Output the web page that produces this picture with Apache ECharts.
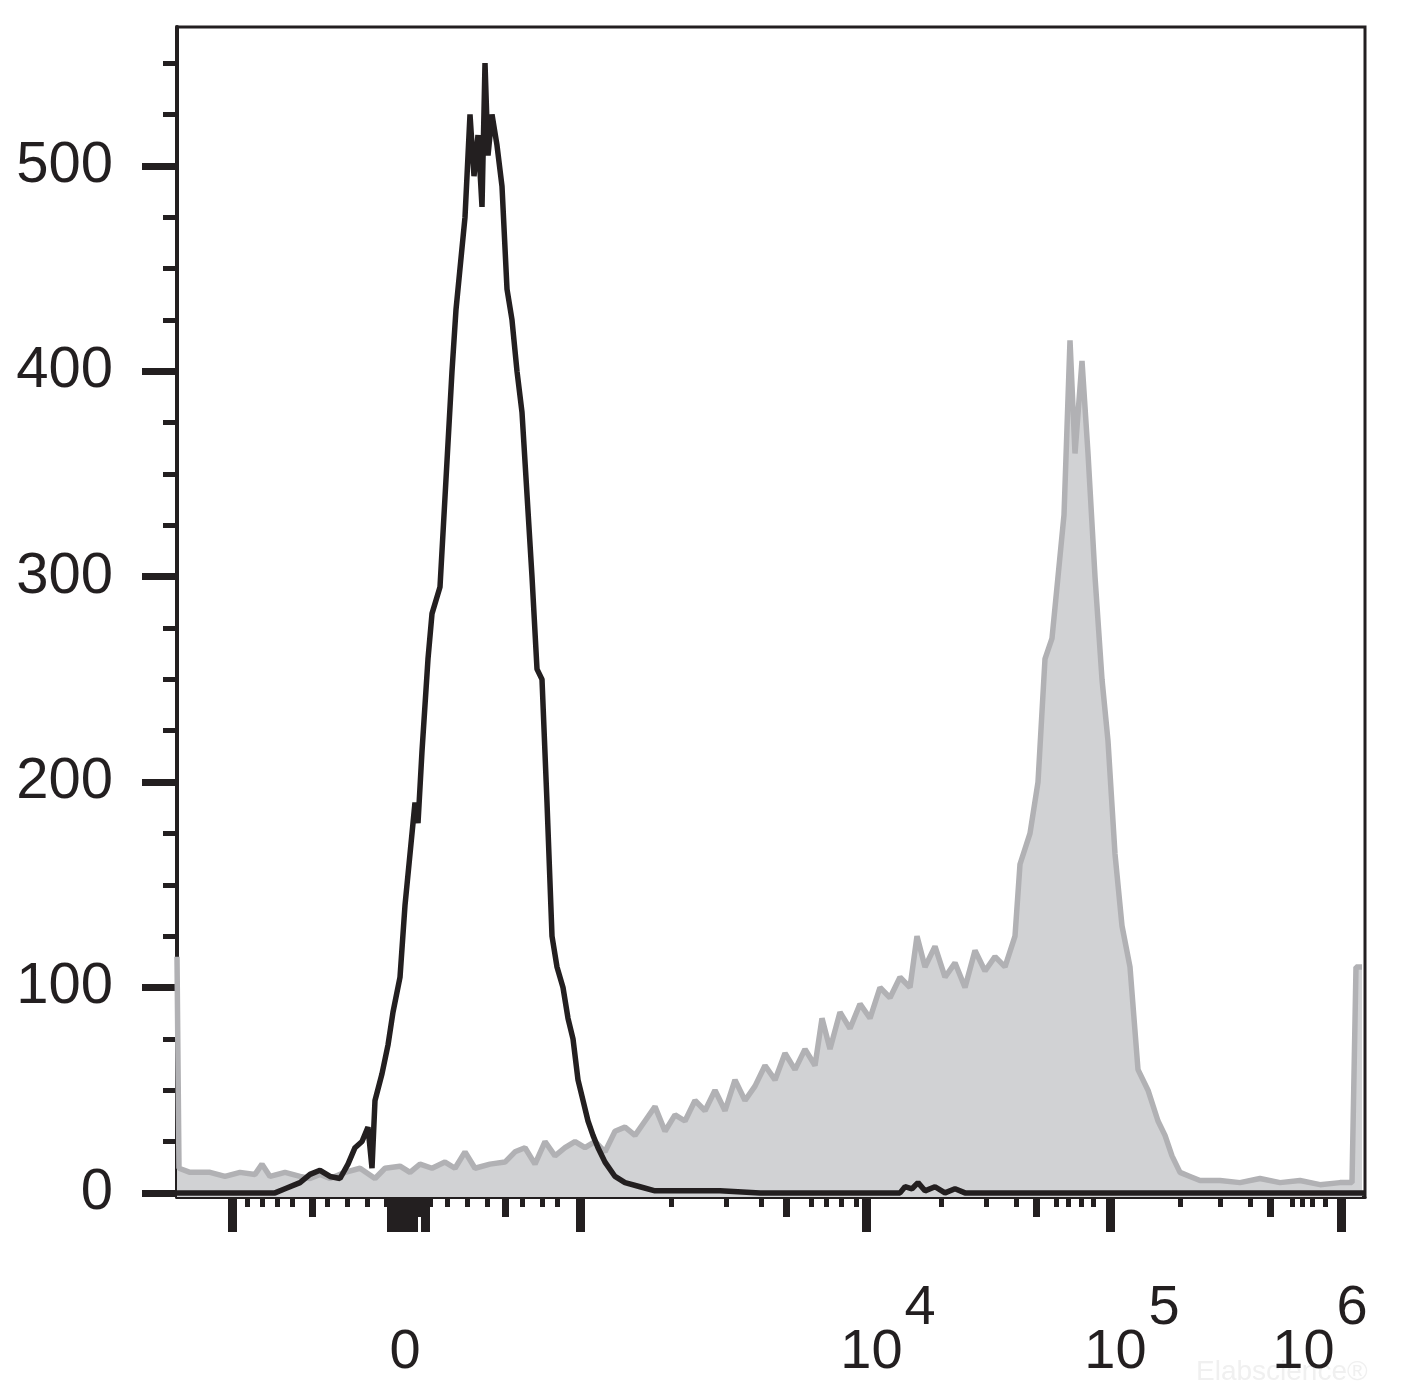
<!DOCTYPE html>
<html><head><meta charset="utf-8">
<script src="https://cdn.jsdelivr.net/npm/echarts@6/dist/echarts.min.js"></script>
<style>html,body{margin:0;padding:0;background:#fff}#c{width:1418px;height:1393px}</style>
</head><body><div id="c"></div>
<script>
// x values are display channels of the biexponential scale (177..1365)
const blackX = [177,275,285,300,310,320,330,340,348,355,362,368,372,375,382,388,393,400,405,410,415,418,422,428,432,440,444,448,452,456,460,465,470,474,478,482,485,488,492,497,502,507,512,517,522,527,532,537,542,547,552,557,563,568,573,578,583,588,593,598,605,615,625,640,655,680,700,720,760,900,905,912,918,925,935,945,955,965,1365];
const blackY = [0,0,2,5,9,11,8,7,14,22,25,32,12,45,58,72,88,105,140,165,190,180,215,260,282,295,330,365,400,430,450,475,525,495,515,480,550,505,525,510,490,440,425,400,380,340,300,255,250,190,125,110,100,85,75,55,45,35,28,22,15,8,5,3,1,1,1,1,0,0,3,2,5,1,3,0,2,0,0];
const grayX = [177,179,190,210,225,240,255,262,270,285,300,310,320,330,345,360,375,385,400,410,420,432,445,455,465,475,490,505,515,525,535,545,555,565,575,585,595,605,615,625,635,645,655,665,675,685,695,705,715,725,735,745,755,765,775,785,795,805,815,822,830,840,850,860,870,880,890,900,910,917,925,935,945,955,965,975,985,995,1005,1015,1020,1030,1038,1045,1052,1058,1064,1070,1075,1082,1088,1095,1102,1108,1115,1122,1130,1138,1148,1158,1165,1172,1180,1190,1200,1220,1240,1260,1280,1300,1320,1340,1352,1356,1362];
const grayY = [115,12,10,10,8,10,9,14,8,10,8,7,9,7,10,12,7,12,13,10,14,12,15,12,20,12,14,15,20,22,14,25,18,22,25,22,25,20,30,32,28,35,42,30,38,35,45,40,50,40,55,45,52,62,55,68,60,70,62,85,70,88,80,92,85,100,95,105,100,125,110,120,105,112,100,118,108,115,110,125,160,175,200,260,270,300,330,415,360,405,360,300,250,220,165,130,110,60,50,35,28,18,10,8,6,6,5,7,5,6,4,5,5,110,110];
const yLabels = [0,100,200,300,400,500];
const yMinor = [25,50,75,125,150,175,225,250,275,325,350,375,425,450,475,525,550];
const xMajor = [232,391,400,408,413,425,580,866,1110,1341];
const xMedium = [312,397,420,505,786,1036,1270];
const xMinor = [247,262,277,292,327,347,367,386,430,447,467,487,522,542,557,671,726,761,811,826,841,856,941,986,1016,1056,1068,1081,1093,1180,1220,1250,1292,1302,1312,1325];
const xLabelPos = [405,888,1132,1320];
const xLabelText = ['0','4','5','6'];

const ink = '#231f20';
const zip = (a,b)=>a.map((v,i)=>[v,b[i]]);
const xBase = {type:'value',position:'bottom',offset:0,min:177,max:1365,splitLine:{show:false},axisLine:{show:false},axisLabel:{show:false},axisTick:{show:false}};
const yBase = {type:'value',position:'left',offset:0,min:-2,max:567.6,splitLine:{show:false},axisLine:{show:false},axisLabel:{show:false},axisTick:{show:false}};
const chart = echarts.init(document.getElementById('c'));
chart.setOption({
  animation:false,
  backgroundColor:'#fff',
  grid:{left:177,right:53,top:27,bottom:196,show:true,borderColor:ink,borderWidth:3,backgroundColor:'transparent'},
  xAxis:[
    Object.assign({},xBase,{axisLine:{show:true,onZero:false,lineStyle:{color:ink,width:3}},
      axisTick:{show:true,length:35,lineStyle:{color:ink,width:9},customValues:xMajor},
      axisLabel:{show:true,customValues:xLabelPos,margin:84,color:ink,fontFamily:'Liberation Sans, Arial',
        formatter:v=>{const i=xLabelPos.indexOf(v);return i===0?'{b|0}':'{b|10}{s|'+xLabelText[i]+'}';},
        rich:{b:{fontSize:56,color:ink,fontFamily:'Liberation Sans',padding:[44,0,0,0],verticalAlign:'bottom'},
              s:{fontSize:56,color:ink,fontFamily:'Liberation Sans',padding:[0,0,44,2],verticalAlign:'top'}}}}),
    Object.assign({},xBase,{axisTick:{show:true,length:24,lineStyle:{color:ink,width:7},customValues:xMedium}}),
    Object.assign({},xBase,{axisTick:{show:true,length:14,lineStyle:{color:ink,width:5},customValues:xMinor}})
  ],
  yAxis:[
    Object.assign({},yBase,{axisLine:{show:true,onZero:false,lineStyle:{color:ink,width:4}},
      axisTick:{show:true,length:35,lineStyle:{color:ink,width:7},customValues:yLabels},
      axisLabel:{show:true,customValues:yLabels,margin:64,fontSize:58,color:ink,fontFamily:'Liberation Sans, Arial'}}),
    Object.assign({},yBase,{axisTick:{show:true,length:14,lineStyle:{color:ink,width:5},customValues:yMinor}})
  ],
  series:[
    {type:'line',data:zip(grayX,grayY),symbol:'none',lineStyle:{color:'#b1b1b4',width:5.5},areaStyle:{color:'#d1d2d4',opacity:1,origin:'start'},z:2},
    {type:'line',data:zip(blackX,blackY),symbol:'none',lineStyle:{color:ink,width:5.5},z:3}
  ],
  graphic:[{type:'text',left:1196,top:1358,style:{text:'Elabscience®',fontSize:28,fill:'#f0f0f0',fontFamily:'Liberation Sans'}}]
});
</script></body></html>
